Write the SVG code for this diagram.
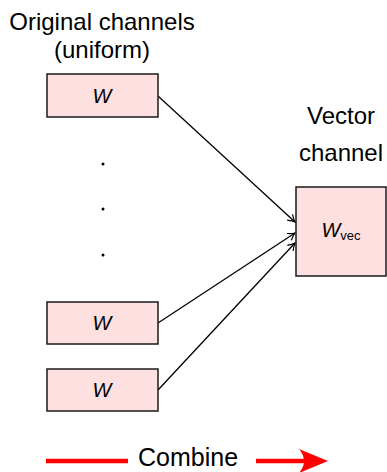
<svg xmlns="http://www.w3.org/2000/svg" width="387" height="472" viewBox="0 0 387 472">
<style>
.box{fill:#ffe0e0;stroke:#1a1a1a;stroke-width:1.5}
.lbl{font-family:"Liberation Sans",Arial,sans-serif;font-size:24px;fill:#000;text-anchor:middle}
.w{font-family:"Liberation Sans",Arial,sans-serif;font-style:italic;font-size:20px;fill:#000;text-anchor:middle}
.conn{stroke:#000;stroke-width:1.3;fill:none;marker-end:url(#ah)}
.red{stroke:#ff0000;stroke-width:4.5;fill:none}
</style>
<defs>
<marker id="ah" markerWidth="12" markerHeight="12" refX="10" refY="6" orient="auto" markerUnits="userSpaceOnUse">
<path d="M3,2 Q7,5 10,6 Q7,7 3,10" fill="none" stroke="#000" stroke-width="1.2"/>
</marker>
</defs>
<g id="title-left">
<text class="lbl" x="102" y="30">Original channels</text>
<text class="lbl" x="102" y="58">(uniform)</text>
</g>
<g id="title-right">
<text class="lbl" x="341" y="124">Vector</text>
<text class="lbl" x="341" y="161">channel</text>
</g>
<g id="connectors">
<line class="conn" x1="158" y1="96" x2="295" y2="222"/>
<line class="conn" x1="158" y1="323" x2="295" y2="233"/>
<line class="conn" x1="158" y1="390" x2="295" y2="243"/>
</g>
<g id="w1">
<rect class="box" x="47" y="74" width="111" height="43"/>
<text class="w" x="102" y="103">W</text>
</g>
<g id="dots">
<circle cx="103" cy="164" r="1.5" fill="#000"/>
<circle cx="103" cy="209" r="1.5" fill="#000"/>
<circle cx="103" cy="255" r="1.5" fill="#000"/>
</g>
<g id="w2">
<rect class="box" x="47" y="302" width="111" height="42"/>
<text class="w" x="102" y="330">W</text>
</g>
<g id="w3">
<rect class="box" x="47" y="369" width="111" height="42"/>
<text class="w" x="102" y="397">W</text>
</g>
<g id="wvec">
<rect class="box" x="296" y="187" width="90" height="89"/>
<text x="341" y="237" font-family="Liberation Sans,Arial,sans-serif" font-size="20" text-anchor="middle"><tspan font-style="italic">W</tspan><tspan font-size="13" dy="3">vec</tspan></text>
</g>
<g id="combine">
<line class="red" x1="46" y1="461" x2="128" y2="461"/>
<text x="138" y="466" font-family="Liberation Sans,Arial,sans-serif" font-size="25">Combine</text>
<line class="red" x1="256" y1="461" x2="312" y2="461"/>
<path d="M328,461 L299,449 Q309,461 299,473 Z" fill="#ff0000"/>
</g>
</svg>
